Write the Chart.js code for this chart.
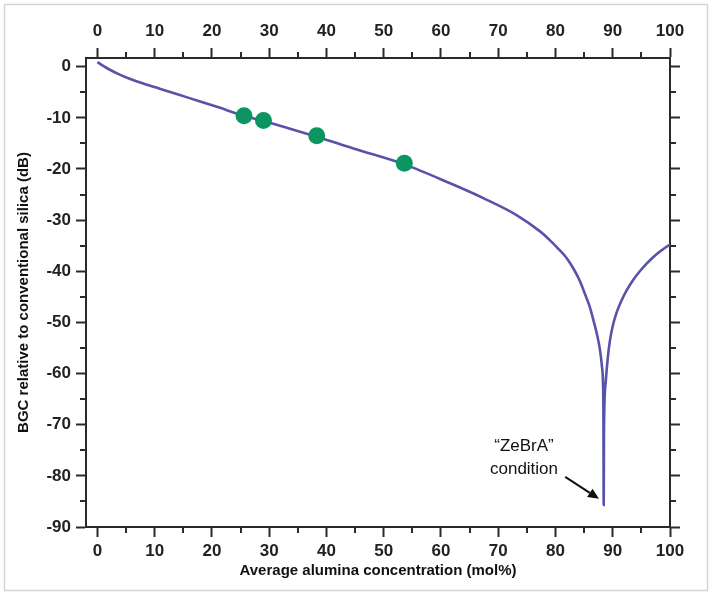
<!DOCTYPE html>
<html><head><meta charset="utf-8">
<script src="https://cdn.jsdelivr.net/npm/chart.js@4.4.1/dist/chart.umd.min.js"></script>
<style>
html,body{margin:0;padding:0;background:#fff;}
#wrap{position:relative;width:712px;height:596px;}
</style></head><body>
<div id="wrap"><canvas id="c" width="712" height="596"></canvas></div>
<script>
// Modelled BGC curve (x = mol% alumina, y = dB)
const curveX = [0, 1, 2, 3.5, 5.5, 8, 11, 14.4, 17.8, 21, 25.6, 29, 38.3, 45, 53.6, 61.6, 67.4, 73.2, 77.3, 79, 80.5, 82, 83.3, 84.3, 85.2, 86, 86.7, 87.3, 87.8, 88.1, 88.3, 88.37, 88.42, 88.47, 88.55, 88.8, 89.1, 89.5, 90.0, 90.7, 91.5, 92.4, 93.5, 94.8, 96, 97.1, 98.3, 99.4, 100];
const curveY = [0.9, 0.15, -0.5, -1.35, -2.3, -3.3, -4.35, -5.55, -6.75, -7.9, -9.6, -10.6, -13.7, -16.1, -19.1, -22.8, -25.7, -29.0, -32.2, -33.9, -35.6, -37.5, -39.8, -42.0, -44.6, -47.0, -49.9, -52.6, -55.6, -58.5, -62, -68, -85.7, -72, -66, -61.3, -57.3, -53.6, -50.7, -48.0, -45.8, -43.8, -41.8, -39.9, -38.4, -37.2, -36.1, -35.2, -34.8];
// Measured fibres (green dots)
const sampleX = [25.6, 29.0, 38.3, 53.6];
const sampleY = [-9.6, -10.5, -13.5, -18.9];
// Axes
const xMin = -2, xMax = 100, xStep = 10;
const yMin = -90, yMax = 1.7, yStep = 10;
const xMinor = [5, 15, 25, 35, 45, 55, 65, 75, 85, 95];
const yMinor = [-5, -15, -25, -35, -45, -55, -65, -75, -85];
const xTitle = 'Average alumina concentration (mol%)';
const yTitle = 'BGC relative to conventional silica (dB)';
// Annotation
const noteLines = ['\u201CZeBrA\u201D', 'condition'];
const noteX = 74.5;
const noteY = [-74.2, -78.7];
const arrowFrom = [81.7, -80.2];
const arrowTo = [87.6, -84.5];

const FONT = "'Liberation Sans', Arial, sans-serif";
const AX = '#2a2a2a';

const tickFont = {family: FONT, size: 17, weight: 'bold'};
const titleFont = {family: FONT, size: 15, weight: 'bold'};

function axisBase(extra) {
  return Object.assign({
    type: 'linear',
    grid: {drawOnChartArea: false, drawTicks: true, tickLength: 10, tickColor: AX, tickWidth: 2},
    border: {display: true, color: AX, width: 2},
  }, extra);
}

const framePlugin = {
  id: 'frame',
  beforeDraw(chart) {
    const ctx = chart.ctx;
    ctx.save();
    ctx.fillStyle = '#fff';
    ctx.fillRect(0, 0, chart.width, chart.height);
    ctx.strokeStyle = '#d6d6d6';
    ctx.lineWidth = 1.5;
    ctx.strokeRect(4.5, 4.5, chart.width - 9, chart.height - 10);
    ctx.restore();
  },
  afterDraw(chart) {
    const ctx = chart.ctx, s = chart.scales, ca = chart.chartArea;
    ctx.save();
    ctx.strokeStyle = AX;
    ctx.lineWidth = 2;
    ctx.beginPath();
    xMinor.forEach(v => {
      const px = Math.round(s.x.getPixelForValue(v));
      ctx.moveTo(px, ca.bottom); ctx.lineTo(px, ca.bottom + 6);
      ctx.moveTo(px, ca.top); ctx.lineTo(px, ca.top - 6);
    });
    yMinor.forEach(v => {
      const py = Math.round(s.y.getPixelForValue(v));
      ctx.moveTo(ca.left, py); ctx.lineTo(ca.left - 6, py);
      ctx.moveTo(ca.right, py); ctx.lineTo(ca.right + 6, py);
    });
    ctx.stroke();

    // annotation
    ctx.fillStyle = '#111';
    ctx.font = "17px " + FONT;
    ctx.textAlign = 'center';
    ctx.textBaseline = 'middle';
    noteLines.forEach((t, i) => {
      ctx.fillText(t, s.x.getPixelForValue(noteX), s.y.getPixelForValue(noteY[i]));
    });
    const x1 = s.x.getPixelForValue(arrowFrom[0]), y1 = s.y.getPixelForValue(arrowFrom[1]);
    const x2 = s.x.getPixelForValue(arrowTo[0]), y2 = s.y.getPixelForValue(arrowTo[1]);
    const ang = Math.atan2(y2 - y1, x2 - x1);
    const hl = 11, hw = 5;
    ctx.strokeStyle = '#111';
    ctx.lineWidth = 2;
    ctx.beginPath();
    ctx.moveTo(x1, y1);
    ctx.lineTo(x2 - hl * Math.cos(ang), y2 - hl * Math.sin(ang));
    ctx.stroke();
    ctx.beginPath();
    ctx.moveTo(x2, y2);
    ctx.lineTo(x2 - hl * Math.cos(ang) + hw * Math.sin(ang), y2 - hl * Math.sin(ang) - hw * Math.cos(ang));
    ctx.lineTo(x2 - hl * Math.cos(ang) - hw * Math.sin(ang), y2 - hl * Math.sin(ang) + hw * Math.cos(ang));
    ctx.closePath();
    ctx.fill();
    ctx.restore();
  }
};

new Chart(document.getElementById('c'), {
  type: 'scatter',
  data: {
    datasets: [
      {
        label: 'measured',
        data: sampleX.map((x, i) => ({x, y: sampleY[i]})),
        showLine: false,
        pointRadius: 8.5,
        pointBackgroundColor: '#0c9561',
        pointBorderColor: '#0c9561',
        pointBorderWidth: 0,
        order: 0
      },
      {
        label: 'model',
        data: curveX.map((x, i) => ({x, y: curveY[i]})),
        showLine: true,
        borderColor: '#5853a8',
        borderWidth: 2.6,
        pointRadius: 0,
        cubicInterpolationMode: 'monotone',
        order: 1
      }
    ]
  },
  options: {
    responsive: false,
    animation: false,
    layout: {padding: 0},
    plugins: {legend: {display: false}, tooltip: {enabled: false}},
    scales: {
      x: axisBase({
        position: 'bottom', min: xMin, max: xMax,
        ticks: {stepSize: xStep, includeBounds: false, font: tickFont, color: '#222', padding: 4, maxRotation: 0, autoSkip: false},
        title: {display: true, text: xTitle, font: titleFont, color: '#111', padding: {top: 0, bottom: 16}},
        afterFit(sc) { sc.height = 69; }
      }),
      x2: axisBase({
        position: 'top', min: xMin, max: xMax,
        ticks: {stepSize: xStep, includeBounds: false, font: tickFont, color: '#222', padding: 6, maxRotation: 0, autoSkip: false},
        afterFit(sc) { sc.height = 58; }
      }),
      y: axisBase({
        position: 'left', min: yMin, max: yMax,
        ticks: {stepSize: yStep, includeBounds: false, font: tickFont, color: '#222', padding: 5},
        title: {display: true, text: yTitle, font: titleFont, color: '#111', padding: {top: 15, bottom: 0}},
        afterFit(sc) { sc.width = 86; }
      }),
      y2: axisBase({
        position: 'right', min: yMin, max: yMax,
        ticks: {stepSize: yStep, includeBounds: false, font: tickFont, callback: () => ''},
        afterFit(sc) { sc.width = 42; }
      })
    }
  },
  plugins: [framePlugin]
});
</script>
</body></html>
